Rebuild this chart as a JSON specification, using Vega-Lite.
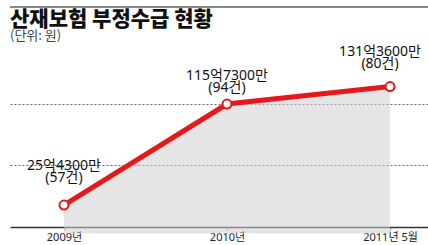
{
  "$schema": "https://vega.github.io/schema/vega-lite/v6.json",
  "width": 418,
  "height": 221,
  "autosize": {"type": "none"},
  "padding": {"left": 10, "right": 0, "top": 6, "bottom": 18},
  "config": {"view": {"stroke": null}},
  "title": {
    "text": "산재보험 부정수급 현황",
    "subtitle": "(단위: 원)",
    "anchor": "start",
    "frame": "group",
    "offset": -37,
    "font": "Noto Sans CJK KR",
    "fontSize": 21,
    "fontWeight": 900,
    "color": "#111",
    "subtitleFont": "Noto Sans CJK KR",
    "subtitleFontSize": 13,
    "subtitleColor": "#444",
    "subtitlePadding": 0
  },
  "data": {
    "values": [
      {"year": "2009년", "value": 25.43, "label": "25억4300만\n(57건)", "grp": "a"},
      {"year": "2010년", "value": 115.73, "label": "115억7300만\n(94건)", "grp": "b"},
      {"year": "2011년 5월", "value": 131.36, "label": "131억3600만\n(80건)", "grp": "c"}
    ]
  },
  "encoding": {
    "x": {
      "field": "year", "type": "nominal", "sort": null,
      "scale": {"type": "point", "padding": 0.282, "align": 0.587},
      "axis": {
        "title": null, "labelAngle": 0, "labelFont": "Noto Sans, Noto Sans CJK KR",
        "labelFontSize": 11, "labelColor": "#222", "domainColor": "#333", "domainWidth": 1.5,
        "tickSize": 3, "tickColor": "#999", "labelPadding": 1, "grid": false
      }
    },
    "y": {
      "field": "value", "type": "quantitative",
      "scale": {"domain": [5.77, 203.4], "zero": false, "nice": false},
      "axis": {
        "title": null, "labels": false, "ticks": false, "domain": false,
        "grid": true, "values": [61.2, 115.73], "gridDash": [2, 2], "gridColor": "#666", "gridWidth": 1
      }
    }
  },
  "layer": [
    {"mark": {"type": "area", "color": "#cfcfcf", "opacity": 0.55}},
    {
      "mark": {"type": "rule", "color": "#888", "strokeWidth": 2},
      "encoding": {"x": {"value": 0}, "x2": {"value": 418}, "y": {"datum": 202.5}}
    },
    {"mark": {"type": "line", "color": "#e3191b", "strokeWidth": 5}},
    {"mark": {"type": "point", "filled": true, "fill": "white", "stroke": "#e3191b", "strokeWidth": 2, "size": 80, "opacity": 1}},
    {
      "transform": [{"filter": "datum.grp == 'a'"}],
      "mark": {"type": "text", "lineBreak": "\n", "lineHeight": 12, "baseline": "bottom", "dy": -32, "font": "Noto Sans, Noto Sans CJK KR", "fontSize": 14, "color": "#111"},
      "encoding": {"text": {"field": "label"}}
    },
    {
      "transform": [{"filter": "datum.grp == 'b'"}],
      "mark": {"type": "text", "lineBreak": "\n", "lineHeight": 12, "baseline": "bottom", "dy": -21, "font": "Noto Sans, Noto Sans CJK KR", "fontSize": 14, "color": "#111"},
      "encoding": {"text": {"field": "label"}}
    },
    {
      "transform": [{"filter": "datum.grp == 'c'"}],
      "mark": {"type": "text", "lineBreak": "\n", "lineHeight": 12, "baseline": "bottom", "dy": -28, "dx": -10, "font": "Noto Sans, Noto Sans CJK KR", "fontSize": 14, "color": "#111"},
      "encoding": {"text": {"field": "label"}}
    }
  ]
}
